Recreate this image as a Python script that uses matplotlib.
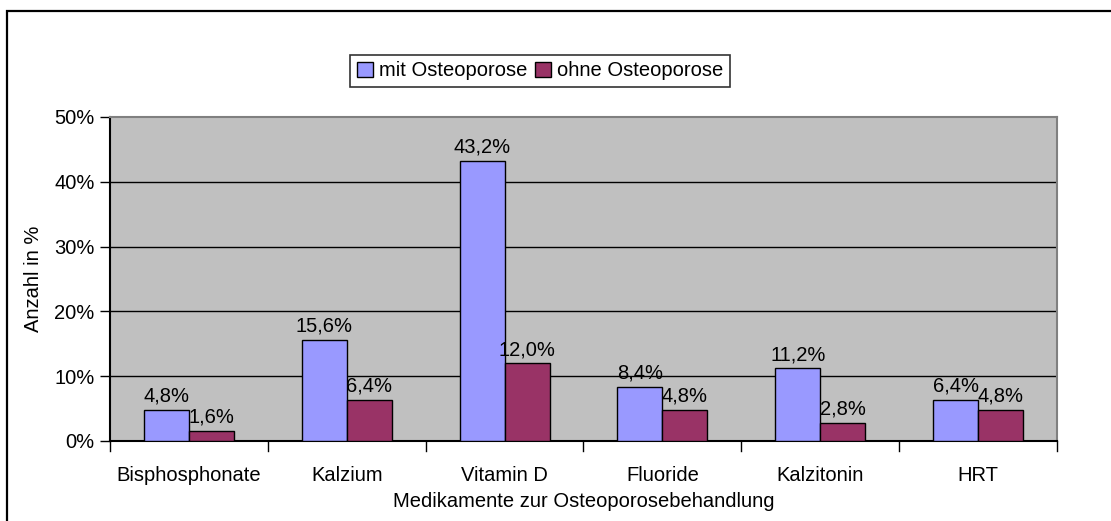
import matplotlib.pyplot as plt
import numpy as np
from matplotlib.patches import Rectangle

plt.rcParams['font.family'] = ['Liberation Sans', 'DejaVu Sans']

kategorien = ['Bisphosphonate', 'Kalzium', 'Vitamin D', 'Fluoride', 'Kalzitonin', 'HRT']
mit = [4.8, 15.6, 43.2, 8.4, 11.2, 6.4]
ohne = [1.6, 6.4, 12.0, 4.8, 2.8, 4.8]

fs = 14.5

fig = plt.figure(figsize=(11.11, 5.21), dpi=100)
ax = fig.add_axes([110 / 1111, 1 - 441 / 521, (1057 - 110) / 1111, (441 - 117) / 521])

# outer chart border (cut off at right and bottom like the original)
fig.patches.append(Rectangle((7 / 1111, -0.1), 1.2, 1 - 11 / 521 + 0.1,
                             transform=fig.transFigure, fill=False,
                             edgecolor='black', linewidth=1.6))

x = np.arange(len(kategorien))
w = 0.285
b1 = ax.bar(x - w / 2, mit, w, color='#9999FF', edgecolor='black', linewidth=1,
            label='mit Osteoporose', zorder=3)
b2 = ax.bar(x + w / 2, ohne, w, color='#993366', edgecolor='black', linewidth=1,
            label='ohne Osteoporose', zorder=3)

for bars, vals in ((b1, mit), (b2, ohne)):
    for r, v in zip(bars, vals):
        ax.annotate(f'{v:.1f}%'.replace('.', ','), (r.get_x() + r.get_width() / 2, v),
                    xytext=(0, 3), textcoords='offset points', ha='center', va='bottom',
                    fontsize=fs, zorder=4)

ax.set_facecolor('#C0C0C0')
ax.set_xlim(-0.5, len(kategorien) - 0.5)
ax.set_ylim(0, 50)
ax.set_yticks([0, 10, 20, 30, 40, 50])
ax.set_yticklabels([f'{t}%' for t in range(0, 60, 10)], fontsize=fs)
for t in [10, 20, 30, 40]:
    ax.axhline(t, color='black', linewidth=1, zorder=1)

ax.set_xticks(x)
ax.set_xticklabels(kategorien, fontsize=fs)
ax.tick_params(axis='x', length=0, pad=18)
for b in np.arange(-0.5, len(kategorien), 1):
    ax.plot([b, b], [0, -1.6], color='black', linewidth=1, clip_on=False)
ax.tick_params(axis='y', direction='out', length=7, width=1, pad=4)

ax.spines['left'].set_color('black')
ax.spines['bottom'].set_color('black')
ax.spines['top'].set_color('#808080')
ax.spines['right'].set_color('#808080')
for s in ax.spines.values():
    s.set_linewidth(1.5)

ax.set_xlabel('Medikamente zur Osteoporosebehandlung', fontsize=fs, labelpad=5)
ax.set_ylabel('Anzahl in %', fontsize=fs, labelpad=8)

leg = fig.legend(loc='center', bbox_to_anchor=(540 / 1111, 1 - 71 / 521), ncol=2,
                 fontsize=fs, frameon=True, fancybox=False, edgecolor='black',
                 handlelength=0.8, handleheight=0.8, handletextpad=0.3,
                 columnspacing=0.4, borderpad=0.3)
leg.get_frame().set_linewidth(1.2)

fig.savefig('out.png', dpi=100)
